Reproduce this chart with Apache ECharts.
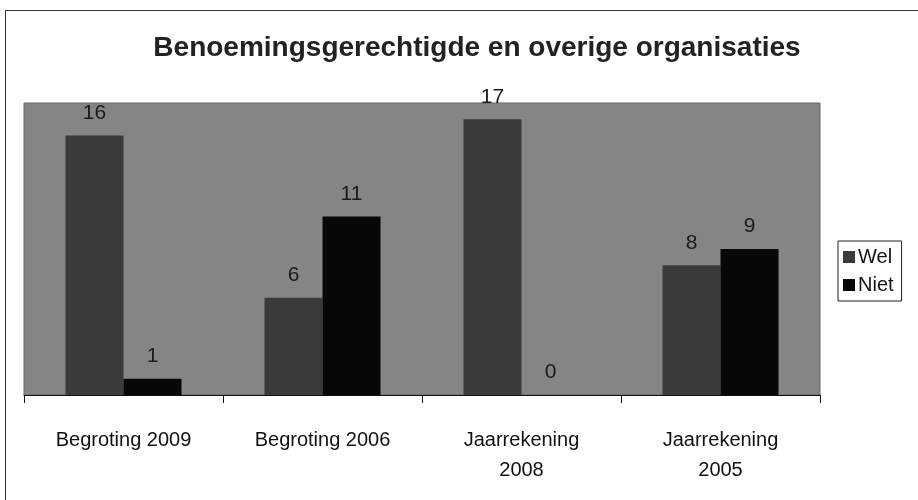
<!DOCTYPE html>
<html>
<head>
<meta charset="utf-8">
<script src="https://cdn.jsdelivr.net/npm/echarts@6/dist/echarts.min.js"></script>
<style>
  html, body { margin: 0; padding: 0; background: #fff; }
  #main { width: 918px; height: 500px; position: relative; }
  #frame { position: absolute; left: 5px; top: 10px; width: 920px; height: 500px; border: 1px solid #333; box-sizing: border-box; pointer-events: none; }
</style>
</head>
<body>
<div id="main"></div>
<div id="frame"></div>
<script>
var categories = ['Begroting 2009', 'Begroting 2006', 'Jaarrekening\n2008', 'Jaarrekening\n2005'];
var welValues = [16, 6, 17, 8];
var nietValues = [1, 11, 0, 9];

var chart = echarts.init(document.getElementById('main'));
var labelStyle = {
    show: true,
    position: 'top',
    distance: 12,
    fontFamily: 'Liberation Sans, Arial',
    fontSize: 21,
    color: '#1a1a1a'
};
var option = {
    animation: false,
    title: {
        text: 'Benoemingsgerechtigde en overige organisaties',
        left: 472,
        textAlign: 'center',
        top: 29,
        textStyle: {
            fontFamily: 'Liberation Sans, Arial',
            fontSize: 28,
            fontWeight: 'bold',
            color: '#222'
        }
    },
    legend: {
        orient: 'vertical',
        left: 838,
        top: 241,
        icon: 'rect',
        itemWidth: 12,
        itemHeight: 12,
        itemGap: 8,
        padding: [6, 8, 6, 5],
        borderColor: '#222',
        borderWidth: 1,
        textStyle: {
            fontFamily: 'Liberation Sans, Arial',
            fontSize: 20,
            color: '#111',
            padding: [0, 0, 0, -2]
        },
        data: ['Wel', 'Niet']
    },
    grid: {
        left: 24,
        right: 98,
        top: 103,
        bottom: 105,
        show: true,
        backgroundColor: '#858585',
        borderColor: '#666',
        borderWidth: 1
    },
    xAxis: {
        type: 'category',
        data: categories,
        axisLine: { lineStyle: { color: '#111', width: 1 } },
        axisTick: { show: true, length: 8, lineStyle: { color: '#111' } },
        axisLabel: {
            fontFamily: 'Liberation Sans, Arial',
            fontSize: 20,
            color: '#111',
            margin: 30,
            lineHeight: 30,
            interval: 0
        }
    },
    yAxis: {
        type: 'value',
        min: 0,
        max: 18,
        show: false
    },
    series: [
        {
            name: 'Wel',
            type: 'bar',
            data: welValues,
            barWidth: 58,
            barGap: '0%',
            itemStyle: { color: '#3a3a3a' },
            label: labelStyle
        },
        {
            name: 'Niet',
            type: 'bar',
            data: nietValues,
            barWidth: 58,
            itemStyle: { color: '#070707' },
            label: labelStyle
        }
    ]
};
chart.setOption(option);
</script>
</body>
</html>
